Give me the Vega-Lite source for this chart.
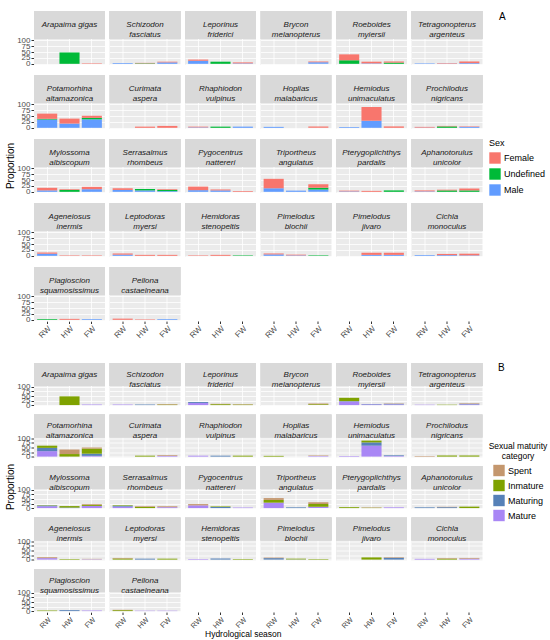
{
"$schema": "https://vega.github.io/schema/vega-lite/v6.json",
"padding": {"left": 5, "top": 10, "right": 5, "bottom": 1},
"title": {"text": "Hydrological season", "orient": "bottom", "anchor": "start", "frame": "group", "fontSize": 8.5, "fontWeight": "normal", "color": "black", "offset": 0, "dx": 171},
"datasets": {
"sex": [
{"species":"Arapaima gigas","season":"HW","category":"Undefined","proportion":48},
{"species":"Arapaima gigas","season":"FW","category":"Female","proportion":2},
{"species":"Schizodon fasciatus","season":"RW","category":"Male","proportion":3},
{"species":"Schizodon fasciatus","season":"HW","category":"Undefined","proportion":2},
{"species":"Schizodon fasciatus","season":"HW","category":"Female","proportion":2},
{"species":"Schizodon fasciatus","season":"FW","category":"Male","proportion":6},
{"species":"Schizodon fasciatus","season":"FW","category":"Female","proportion":3},
{"species":"Leporinus friderici","season":"RW","category":"Male","proportion":13},
{"species":"Leporinus friderici","season":"RW","category":"Female","proportion":5},
{"species":"Leporinus friderici","season":"HW","category":"Undefined","proportion":9},
{"species":"Leporinus friderici","season":"FW","category":"Male","proportion":2},
{"species":"Leporinus friderici","season":"FW","category":"Female","proportion":4},
{"species":"Brycon melanopterus","season":"FW","category":"Male","proportion":7},
{"species":"Brycon melanopterus","season":"FW","category":"Female","proportion":3},
{"species":"Roeboides myiersii","season":"RW","category":"Undefined","proportion":15},
{"species":"Roeboides myiersii","season":"RW","category":"Female","proportion":25},
{"species":"Roeboides myiersii","season":"HW","category":"Male","proportion":2},
{"species":"Roeboides myiersii","season":"HW","category":"Female","proportion":7},
{"species":"Roeboides myiersii","season":"FW","category":"Undefined","proportion":5},
{"species":"Roeboides myiersii","season":"FW","category":"Female","proportion":5},
{"species":"Tetragonopterus argenteus","season":"RW","category":"Male","proportion":2},
{"species":"Tetragonopterus argenteus","season":"HW","category":"Male","proportion":1},
{"species":"Tetragonopterus argenteus","season":"HW","category":"Female","proportion":2},
{"species":"Tetragonopterus argenteus","season":"FW","category":"Male","proportion":3},
{"species":"Tetragonopterus argenteus","season":"FW","category":"Female","proportion":7},
{"species":"Potamorhina altamazonica","season":"RW","category":"Male","proportion":35},
{"species":"Potamorhina altamazonica","season":"RW","category":"Undefined","proportion":3},
{"species":"Potamorhina altamazonica","season":"RW","category":"Female","proportion":22},
{"species":"Potamorhina altamazonica","season":"HW","category":"Male","proportion":18},
{"species":"Potamorhina altamazonica","season":"HW","category":"Female","proportion":21},
{"species":"Potamorhina altamazonica","season":"FW","category":"Male","proportion":36},
{"species":"Potamorhina altamazonica","season":"FW","category":"Undefined","proportion":6},
{"species":"Potamorhina altamazonica","season":"FW","category":"Female","proportion":9},
{"species":"Curimata aspera","season":"HW","category":"Female","proportion":5},
{"species":"Curimata aspera","season":"FW","category":"Female","proportion":8},
{"species":"Rhaphiodon vulpinus","season":"RW","category":"Male","proportion":2},
{"species":"Rhaphiodon vulpinus","season":"RW","category":"Female","proportion":3},
{"species":"Rhaphiodon vulpinus","season":"HW","category":"Undefined","proportion":5},
{"species":"Rhaphiodon vulpinus","season":"FW","category":"Male","proportion":5},
{"species":"Hoplias malabaricus","season":"RW","category":"Male","proportion":4},
{"species":"Hoplias malabaricus","season":"FW","category":"Female","proportion":6},
{"species":"Hemiodus unimaculatus","season":"RW","category":"Male","proportion":3},
{"species":"Hemiodus unimaculatus","season":"HW","category":"Male","proportion":30},
{"species":"Hemiodus unimaculatus","season":"HW","category":"Female","proportion":58},
{"species":"Hemiodus unimaculatus","season":"FW","category":"Female","proportion":6},
{"species":"Prochilodus nigricans","season":"RW","category":"Male","proportion":1},
{"species":"Prochilodus nigricans","season":"RW","category":"Female","proportion":3},
{"species":"Prochilodus nigricans","season":"HW","category":"Undefined","proportion":6},
{"species":"Prochilodus nigricans","season":"HW","category":"Female","proportion":2},
{"species":"Prochilodus nigricans","season":"FW","category":"Male","proportion":4},
{"species":"Prochilodus nigricans","season":"FW","category":"Female","proportion":2},
{"species":"Mylossoma albiscopum","season":"RW","category":"Male","proportion":6},
{"species":"Mylossoma albiscopum","season":"RW","category":"Female","proportion":11},
{"species":"Mylossoma albiscopum","season":"HW","category":"Undefined","proportion":8},
{"species":"Mylossoma albiscopum","season":"HW","category":"Female","proportion":3},
{"species":"Mylossoma albiscopum","season":"FW","category":"Male","proportion":11},
{"species":"Mylossoma albiscopum","season":"FW","category":"Female","proportion":10},
{"species":"Serrasalmus rhombeus","season":"RW","category":"Male","proportion":8},
{"species":"Serrasalmus rhombeus","season":"RW","category":"Female","proportion":7},
{"species":"Serrasalmus rhombeus","season":"HW","category":"Male","proportion":6},
{"species":"Serrasalmus rhombeus","season":"HW","category":"Undefined","proportion":6},
{"species":"Serrasalmus rhombeus","season":"FW","category":"Male","proportion":3},
{"species":"Serrasalmus rhombeus","season":"FW","category":"Undefined","proportion":5},
{"species":"Serrasalmus rhombeus","season":"FW","category":"Female","proportion":3},
{"species":"Pygocentrus nattereri","season":"RW","category":"Male","proportion":7},
{"species":"Pygocentrus nattereri","season":"RW","category":"Female","proportion":15},
{"species":"Pygocentrus nattereri","season":"HW","category":"Male","proportion":6},
{"species":"Pygocentrus nattereri","season":"HW","category":"Female","proportion":4},
{"species":"Pygocentrus nattereri","season":"FW","category":"Female","proportion":3},
{"species":"Triportheus angulatus","season":"RW","category":"Male","proportion":15},
{"species":"Triportheus angulatus","season":"RW","category":"Female","proportion":40},
{"species":"Triportheus angulatus","season":"HW","category":"Male","proportion":5},
{"species":"Triportheus angulatus","season":"FW","category":"Male","proportion":10},
{"species":"Triportheus angulatus","season":"FW","category":"Undefined","proportion":7},
{"species":"Triportheus angulatus","season":"FW","category":"Female","proportion":15},
{"species":"Pterygoplichthys pardalis","season":"RW","category":"Male","proportion":2},
{"species":"Pterygoplichthys pardalis","season":"RW","category":"Female","proportion":3},
{"species":"Pterygoplichthys pardalis","season":"HW","category":"Female","proportion":4},
{"species":"Pterygoplichthys pardalis","season":"FW","category":"Undefined","proportion":6},
{"species":"Aphanotorulus unicolor","season":"RW","category":"Male","proportion":2},
{"species":"Aphanotorulus unicolor","season":"RW","category":"Female","proportion":4},
{"species":"Aphanotorulus unicolor","season":"HW","category":"Undefined","proportion":6},
{"species":"Aphanotorulus unicolor","season":"HW","category":"Female","proportion":3},
{"species":"Aphanotorulus unicolor","season":"FW","category":"Undefined","proportion":6},
{"species":"Aphanotorulus unicolor","season":"FW","category":"Female","proportion":8},
{"species":"Ageneiosus inermis","season":"RW","category":"Male","proportion":9},
{"species":"Ageneiosus inermis","season":"RW","category":"Female","proportion":5},
{"species":"Ageneiosus inermis","season":"HW","category":"Female","proportion":2},
{"species":"Ageneiosus inermis","season":"FW","category":"Female","proportion":2},
{"species":"Leptodoras myersi","season":"RW","category":"Male","proportion":5},
{"species":"Leptodoras myersi","season":"RW","category":"Female","proportion":5},
{"species":"Leptodoras myersi","season":"HW","category":"Female","proportion":4},
{"species":"Leptodoras myersi","season":"FW","category":"Female","proportion":4},
{"species":"Hemidoras stenopeltis","season":"RW","category":"Female","proportion":2},
{"species":"Hemidoras stenopeltis","season":"HW","category":"Female","proportion":4},
{"species":"Hemidoras stenopeltis","season":"FW","category":"Undefined","proportion":2},
{"species":"Pimelodus blochii","season":"RW","category":"Male","proportion":6},
{"species":"Pimelodus blochii","season":"RW","category":"Female","proportion":4},
{"species":"Pimelodus blochii","season":"HW","category":"Male","proportion":2},
{"species":"Pimelodus blochii","season":"HW","category":"Female","proportion":3},
{"species":"Pimelodus blochii","season":"FW","category":"Undefined","proportion":2},
{"species":"Pimelodus jivaro","season":"HW","category":"Male","proportion":4},
{"species":"Pimelodus jivaro","season":"HW","category":"Female","proportion":9},
{"species":"Pimelodus jivaro","season":"FW","category":"Male","proportion":4},
{"species":"Pimelodus jivaro","season":"FW","category":"Female","proportion":9},
{"species":"Cichla monoculus","season":"RW","category":"Male","proportion":3},
{"species":"Cichla monoculus","season":"HW","category":"Male","proportion":3},
{"species":"Cichla monoculus","season":"HW","category":"Female","proportion":5},
{"species":"Cichla monoculus","season":"FW","category":"Male","proportion":2},
{"species":"Cichla monoculus","season":"FW","category":"Female","proportion":7},
{"species":"Plagioscion squamosissimus","season":"RW","category":"Undefined","proportion":3},
{"species":"Plagioscion squamosissimus","season":"HW","category":"Female","proportion":4},
{"species":"Plagioscion squamosissimus","season":"FW","category":"Male","proportion":3},
{"species":"Pellona castaelneana","season":"RW","category":"Female","proportion":5},
{"species":"Pellona castaelneana","season":"HW","category":"Female","proportion":2},
{"species":"Pellona castaelneana","season":"FW","category":"Male","proportion":3}
],
"maturity": [
{"species":"Arapaima gigas","season":"HW","category":"Inmature","proportion":48},
{"species":"Arapaima gigas","season":"FW","category":"Mature","proportion":3},
{"species":"Schizodon fasciatus","season":"RW","category":"Mature","proportion":3},
{"species":"Schizodon fasciatus","season":"HW","category":"Maturing","proportion":3},
{"species":"Schizodon fasciatus","season":"FW","category":"Inmature","proportion":3},
{"species":"Schizodon fasciatus","season":"FW","category":"Spent","proportion":3},
{"species":"Leporinus friderici","season":"RW","category":"Mature","proportion":12},
{"species":"Leporinus friderici","season":"RW","category":"Maturing","proportion":5},
{"species":"Leporinus friderici","season":"HW","category":"Inmature","proportion":5},
{"species":"Leporinus friderici","season":"HW","category":"Spent","proportion":2},
{"species":"Leporinus friderici","season":"FW","category":"Inmature","proportion":3},
{"species":"Leporinus friderici","season":"FW","category":"Spent","proportion":2},
{"species":"Brycon melanopterus","season":"FW","category":"Inmature","proportion":5},
{"species":"Brycon melanopterus","season":"FW","category":"Spent","proportion":4},
{"species":"Roeboides myiersii","season":"RW","category":"Mature","proportion":20},
{"species":"Roeboides myiersii","season":"RW","category":"Maturing","proportion":2},
{"species":"Roeboides myiersii","season":"RW","category":"Inmature","proportion":18},
{"species":"Roeboides myiersii","season":"HW","category":"Mature","proportion":4},
{"species":"Roeboides myiersii","season":"HW","category":"Maturing","proportion":2},
{"species":"Roeboides myiersii","season":"FW","category":"Mature","proportion":4},
{"species":"Roeboides myiersii","season":"FW","category":"Maturing","proportion":3},
{"species":"Roeboides myiersii","season":"FW","category":"Spent","proportion":2},
{"species":"Tetragonopterus argenteus","season":"RW","category":"Mature","proportion":2},
{"species":"Tetragonopterus argenteus","season":"HW","category":"Inmature","proportion":2},
{"species":"Tetragonopterus argenteus","season":"FW","category":"Mature","proportion":4},
{"species":"Tetragonopterus argenteus","season":"FW","category":"Maturing","proportion":3},
{"species":"Tetragonopterus argenteus","season":"FW","category":"Spent","proportion":3},
{"species":"Potamorhina altamazonica","season":"RW","category":"Mature","proportion":30},
{"species":"Potamorhina altamazonica","season":"RW","category":"Maturing","proportion":18},
{"species":"Potamorhina altamazonica","season":"RW","category":"Inmature","proportion":12},
{"species":"Potamorhina altamazonica","season":"HW","category":"Inmature","proportion":14},
{"species":"Potamorhina altamazonica","season":"HW","category":"Spent","proportion":25},
{"species":"Potamorhina altamazonica","season":"FW","category":"Mature","proportion":4},
{"species":"Potamorhina altamazonica","season":"FW","category":"Maturing","proportion":12},
{"species":"Potamorhina altamazonica","season":"FW","category":"Inmature","proportion":28},
{"species":"Potamorhina altamazonica","season":"FW","category":"Spent","proportion":6},
{"species":"Curimata aspera","season":"HW","category":"Inmature","proportion":5},
{"species":"Curimata aspera","season":"FW","category":"Mature","proportion":4},
{"species":"Curimata aspera","season":"FW","category":"Spent","proportion":4},
{"species":"Rhaphiodon vulpinus","season":"RW","category":"Mature","proportion":5},
{"species":"Rhaphiodon vulpinus","season":"HW","category":"Maturing","proportion":5},
{"species":"Rhaphiodon vulpinus","season":"FW","category":"Inmature","proportion":5},
{"species":"Hoplias malabaricus","season":"RW","category":"Inmature","proportion":4},
{"species":"Hoplias malabaricus","season":"FW","category":"Mature","proportion":3},
{"species":"Hoplias malabaricus","season":"FW","category":"Spent","proportion":3},
{"species":"Hemiodus unimaculatus","season":"RW","category":"Mature","proportion":3},
{"species":"Hemiodus unimaculatus","season":"HW","category":"Mature","proportion":60},
{"species":"Hemiodus unimaculatus","season":"HW","category":"Maturing","proportion":18},
{"species":"Hemiodus unimaculatus","season":"HW","category":"Inmature","proportion":10},
{"species":"Hemiodus unimaculatus","season":"FW","category":"Mature","proportion":3},
{"species":"Hemiodus unimaculatus","season":"FW","category":"Maturing","proportion":4},
{"species":"Prochilodus nigricans","season":"RW","category":"Spent","proportion":3},
{"species":"Prochilodus nigricans","season":"HW","category":"Inmature","proportion":6},
{"species":"Prochilodus nigricans","season":"FW","category":"Inmature","proportion":6},
{"species":"Mylossoma albiscopum","season":"RW","category":"Mature","proportion":10},
{"species":"Mylossoma albiscopum","season":"RW","category":"Maturing","proportion":4},
{"species":"Mylossoma albiscopum","season":"RW","category":"Inmature","proportion":2},
{"species":"Mylossoma albiscopum","season":"HW","category":"Maturing","proportion":3},
{"species":"Mylossoma albiscopum","season":"HW","category":"Inmature","proportion":8},
{"species":"Mylossoma albiscopum","season":"FW","category":"Mature","proportion":12},
{"species":"Mylossoma albiscopum","season":"FW","category":"Inmature","proportion":6},
{"species":"Mylossoma albiscopum","season":"FW","category":"Spent","proportion":4},
{"species":"Serrasalmus rhombeus","season":"RW","category":"Mature","proportion":8},
{"species":"Serrasalmus rhombeus","season":"RW","category":"Maturing","proportion":5},
{"species":"Serrasalmus rhombeus","season":"RW","category":"Inmature","proportion":3},
{"species":"Serrasalmus rhombeus","season":"HW","category":"Inmature","proportion":6},
{"species":"Serrasalmus rhombeus","season":"HW","category":"Spent","proportion":4},
{"species":"Serrasalmus rhombeus","season":"FW","category":"Mature","proportion":5},
{"species":"Serrasalmus rhombeus","season":"FW","category":"Spent","proportion":5},
{"species":"Pygocentrus nattereri","season":"RW","category":"Mature","proportion":15},
{"species":"Pygocentrus nattereri","season":"RW","category":"Spent","proportion":7},
{"species":"Pygocentrus nattereri","season":"HW","category":"Maturing","proportion":6},
{"species":"Pygocentrus nattereri","season":"HW","category":"Inmature","proportion":3},
{"species":"Pygocentrus nattereri","season":"FW","category":"Mature","proportion":3},
{"species":"Triportheus angulatus","season":"RW","category":"Mature","proportion":30},
{"species":"Triportheus angulatus","season":"RW","category":"Inmature","proportion":15},
{"species":"Triportheus angulatus","season":"RW","category":"Spent","proportion":10},
{"species":"Triportheus angulatus","season":"HW","category":"Maturing","proportion":4},
{"species":"Triportheus angulatus","season":"FW","category":"Mature","proportion":8},
{"species":"Triportheus angulatus","season":"FW","category":"Inmature","proportion":15},
{"species":"Triportheus angulatus","season":"FW","category":"Spent","proportion":9},
{"species":"Pterygoplichthys pardalis","season":"RW","category":"Inmature","proportion":5},
{"species":"Pterygoplichthys pardalis","season":"HW","category":"Inmature","proportion":2},
{"species":"Pterygoplichthys pardalis","season":"HW","category":"Spent","proportion":2},
{"species":"Pterygoplichthys pardalis","season":"FW","category":"Mature","proportion":4},
{"species":"Aphanotorulus unicolor","season":"RW","category":"Maturing","proportion":4},
{"species":"Aphanotorulus unicolor","season":"HW","category":"Maturing","proportion":5},
{"species":"Aphanotorulus unicolor","season":"HW","category":"Spent","proportion":2},
{"species":"Aphanotorulus unicolor","season":"FW","category":"Inmature","proportion":8},
{"species":"Ageneiosus inermis","season":"RW","category":"Mature","proportion":8},
{"species":"Ageneiosus inermis","season":"RW","category":"Spent","proportion":5},
{"species":"Ageneiosus inermis","season":"HW","category":"Inmature","proportion":3},
{"species":"Ageneiosus inermis","season":"FW","category":"Mature","proportion":2},
{"species":"Ageneiosus inermis","season":"FW","category":"Spent","proportion":2},
{"species":"Leptodoras myersi","season":"RW","category":"Inmature","proportion":6},
{"species":"Leptodoras myersi","season":"RW","category":"Spent","proportion":3},
{"species":"Leptodoras myersi","season":"HW","category":"Maturing","proportion":5},
{"species":"Leptodoras myersi","season":"FW","category":"Inmature","proportion":5},
{"species":"Hemidoras stenopeltis","season":"RW","category":"Mature","proportion":3},
{"species":"Hemidoras stenopeltis","season":"HW","category":"Maturing","proportion":6},
{"species":"Hemidoras stenopeltis","season":"FW","category":"Inmature","proportion":3},
{"species":"Pimelodus blochii","season":"RW","category":"Maturing","proportion":8},
{"species":"Pimelodus blochii","season":"RW","category":"Spent","proportion":3},
{"species":"Pimelodus blochii","season":"HW","category":"Maturing","proportion":1},
{"species":"Pimelodus blochii","season":"HW","category":"Inmature","proportion":4},
{"species":"Pimelodus blochii","season":"FW","category":"Inmature","proportion":3},
{"species":"Pimelodus jivaro","season":"HW","category":"Inmature","proportion":12},
{"species":"Pimelodus jivaro","season":"FW","category":"Maturing","proportion":10},
{"species":"Pimelodus jivaro","season":"FW","category":"Spent","proportion":3},
{"species":"Cichla monoculus","season":"RW","category":"Mature","proportion":4},
{"species":"Cichla monoculus","season":"HW","category":"Inmature","proportion":5},
{"species":"Cichla monoculus","season":"HW","category":"Spent","proportion":3},
{"species":"Cichla monoculus","season":"FW","category":"Mature","proportion":5},
{"species":"Cichla monoculus","season":"FW","category":"Spent","proportion":4},
{"species":"Plagioscion squamosissimus","season":"RW","category":"Inmature","proportion":3},
{"species":"Plagioscion squamosissimus","season":"HW","category":"Maturing","proportion":5},
{"species":"Plagioscion squamosissimus","season":"FW","category":"Mature","proportion":3},
{"species":"Pellona castaelneana","season":"RW","category":"Inmature","proportion":5},
{"species":"Pellona castaelneana","season":"RW","category":"Spent","proportion":2},
{"species":"Pellona castaelneana","season":"HW","category":"Mature","proportion":2},
{"species":"Pellona castaelneana","season":"FW","category":"Mature","proportion":2}
]
},
"vconcat": [
{
"data": {"name": "sex"},
"transform": [{"calculate": "indexof(['Male','Undefined','Female'], datum.category)", "as": "stack_rank"}],
"title": {"text": "A", "anchor": "start", "frame": "group", "fontSize": 10, "fontWeight": "normal", "offset": -12, "dx": 465},
"facet": {"field": "species", "type": "nominal", "title": "Proportion",
  "header": {"labels": false, "labelExpr": "''", "labelFontSize": 1, "labelPadding": 0, "labelLimit": 1, "titleOrient": "left", "titleFontSize": 10, "titleFontWeight": "normal", "titleColor": "black", "titlePadding": 0},
  "sort": ["Arapaima gigas","Schizodon fasciatus","Leporinus friderici","Brycon melanopterus","Roeboides myiersii","Tetragonopterus argenteus","Potamorhina altamazonica","Curimata aspera","Rhaphiodon vulpinus","Hoplias malabaricus","Hemiodus unimaculatus","Prochilodus nigricans","Mylossoma albiscopum","Serrasalmus rhombeus","Pygocentrus nattereri","Triportheus angulatus","Pterygoplichthys pardalis","Aphanotorulus unicolor","Ageneiosus inermis","Leptodoras myersi","Hemidoras stenopeltis","Pimelodus blochii","Pimelodus jivaro","Cichla monoculus","Plagioscion squamosissimus","Pellona castaelneana"]},
"columns": 6,
"spacing": {"row": 9, "column": 4.5},
"spec": {
  "width": 71, "height": 54,
  "layer": [
    {"mark": {"type": "bar"},
     "encoding": {
       "x": {"field": "season", "type": "nominal", "title": null,
             "scale": {"domain": ["RW","HW","FW"], "paddingInner": 0.1, "paddingOuter": 0.14},
             "axis": {"labelAngle": -45, "labelFontSize": 8, "labelColor": "#4D4D4D", "tickColor": "#333333", "tickSize": 2.5, "domain": false, "grid": true, "gridColor": "white", "gridWidth": 0.8, "labelPadding": 1}},
       "y": {"field": "proportion", "type": "quantitative", "stack": "zero", "title": null,
             "scale": {"domain": [-5, 223.5], "nice": false, "zero": false},
             "axis": {"values": [0,25,50,75,100], "labelFontSize": 8, "labelColor": "#4D4D4D", "tickColor": "#333333", "tickSize": 3, "domain": false, "grid": true, "gridColor": "white", "gridWidth": 0.8, "labelOverlap": false, "labelPadding": 1}},
       "color": {"field": "category", "type": "nominal", "sort": ["Female","Undefined","Male"],
                 "scale": {"domain": ["Female","Undefined","Male"], "range": ["#F8766D","#00BA38","#619CFF"]},
                 "legend": {"orient": "none", "legendX": 455, "legendY": 128, "title": "Sex", "titleFontSize": 9, "titleFontWeight": "normal", "titleColor": "black", "labelFontSize": 9, "labelColor": "black", "labelOffset": 3, "symbolType": "square", "symbolSize": 130, "symbolStrokeWidth": 0, "symbolOpacity": 1, "rowPadding": 4, "titlePadding": 4}},
       "order": {"field": "stack_rank", "type": "quantitative", "sort": "ascending"}
     }},
    {"mark": {"type": "rect", "color": "#D9D9D9"},
     "encoding": {"y": {"datum": 105, "title": null, "axis": {"values": [0,25,50,75,100], "labelOverlap": false}}, "y2": {"datum": 223.5}}},
    {"transform": [{"aggregate": [{"op": "count", "as": "n"}], "groupby": ["species"]},
                   {"calculate": "length(datum.species) <= 14 ? datum.species : split(datum.species, ' ')", "as": "strip_label"}],
     "mark": {"type": "text", "fontStyle": "italic", "fontSize": 8, "color": "#1A1A1A", "baseline": "middle", "align": "center", "lineHeight": 10},
     "encoding": {"y": {"datum": 164, "title": null, "axis": {"values": [0,25,50,75,100], "labelOverlap": false}}, "text": {"field": "strip_label"}}}
  ]
}
},
{
"data": {"name": "maturity"},
"transform": [{"calculate": "indexof(['Mature','Maturing','Inmature','Spent'], datum.category)", "as": "stack_rank"}],
"title": {"text": "B", "anchor": "start", "frame": "group", "fontSize": 10, "fontWeight": "normal", "offset": -11, "dx": 464},
"facet": {"field": "species", "type": "nominal", "title": "Proportion",
  "header": {"labels": false, "labelExpr": "''", "labelFontSize": 1, "labelPadding": 0, "labelLimit": 1, "titleOrient": "left", "titleFontSize": 10, "titleFontWeight": "normal", "titleColor": "black", "titlePadding": 0},
  "sort": ["Arapaima gigas","Schizodon fasciatus","Leporinus friderici","Brycon melanopterus","Roeboides myiersii","Tetragonopterus argenteus","Potamorhina altamazonica","Curimata aspera","Rhaphiodon vulpinus","Hoplias malabaricus","Hemiodus unimaculatus","Prochilodus nigricans","Mylossoma albiscopum","Serrasalmus rhombeus","Pygocentrus nattereri","Triportheus angulatus","Pterygoplichthys pardalis","Aphanotorulus unicolor","Ageneiosus inermis","Leptodoras myersi","Hemidoras stenopeltis","Pimelodus blochii","Pimelodus jivaro","Cichla monoculus","Plagioscion squamosissimus","Pellona castaelneana"]},
"columns": 6,
"spacing": {"row": 7.5, "column": 4.5},
"spec": {
  "width": 71, "height": 43,
  "layer": [
    {"mark": {"type": "bar"},
     "encoding": {
       "x": {"field": "season", "type": "nominal", "title": null,
             "scale": {"domain": ["RW","HW","FW"], "paddingInner": 0.1, "paddingOuter": 0.14},
             "axis": {"labelAngle": -45, "labelFontSize": 7.5, "labelColor": "#4D4D4D", "tickColor": "#333333", "tickSize": 2.5, "domain": false, "grid": true, "gridColor": "white", "gridWidth": 0.8, "labelPadding": 1}},
       "y": {"field": "proportion", "type": "quantitative", "stack": "zero", "title": null,
             "scale": {"domain": [-5, 231.5], "nice": false, "zero": false},
             "axis": {"values": [0,25,50,75,100], "labelFontSize": 8, "labelColor": "#4D4D4D", "tickColor": "#333333", "tickSize": 3, "domain": false, "grid": true, "gridColor": "white", "gridWidth": 0.8, "labelOverlap": false, "labelPadding": 1}},
       "color": {"field": "category", "type": "nominal", "sort": ["Spent","Inmature","Maturing","Mature"],
                 "scale": {"domain": ["Spent","Inmature","Maturing","Mature"], "range": ["#C4976E","#7FA200","#5681B8","#A987F5"]},
                 "legend": {"orient": "none", "legendX": 455, "legendY": 79, "title": ["Sexual maturity", "category"], "titleAlign": "center", "titleAnchor": "middle", "titleFontSize": 8.5, "titleLineHeight": 10, "titleFontWeight": "normal", "titleColor": "black", "titleLimit": 200, "labelFontSize": 9, "labelColor": "black", "labelOffset": 3, "symbolType": "square", "symbolSize": 130, "symbolStrokeWidth": 0, "symbolOpacity": 1, "rowPadding": 3, "titlePadding": 4}},
       "order": {"field": "stack_rank", "type": "quantitative", "sort": "ascending"}
     }},
    {"mark": {"type": "rect", "color": "#D9D9D9"},
     "encoding": {"y": {"datum": 105, "title": null, "axis": {"values": [0,25,50,75,100], "labelOverlap": false}}, "y2": {"datum": 231.5}}},
    {"transform": [{"aggregate": [{"op": "count", "as": "n"}], "groupby": ["species"]},
                   {"calculate": "length(datum.species) <= 14 ? datum.species : split(datum.species, ' ')", "as": "strip_label"}],
     "mark": {"type": "text", "fontStyle": "italic", "fontSize": 8, "color": "#1A1A1A", "baseline": "middle", "align": "center", "lineHeight": 10},
     "encoding": {"y": {"datum": 168, "title": null, "axis": {"values": [0,25,50,75,100], "labelOverlap": false}}, "text": {"field": "strip_label"}}}
  ]
}
}
],
"spacing": 22,
"resolve": {"scale": {"color": "independent", "x": "independent", "y": "independent"}, "legend": {"color": "independent"}},
"config": {
  "font": "Liberation Sans",
  "view": {"fill": "#EBEBEB", "stroke": null},
  "bar": {"stroke": null},
  "headerFacet": {"labels": false}
}
}
